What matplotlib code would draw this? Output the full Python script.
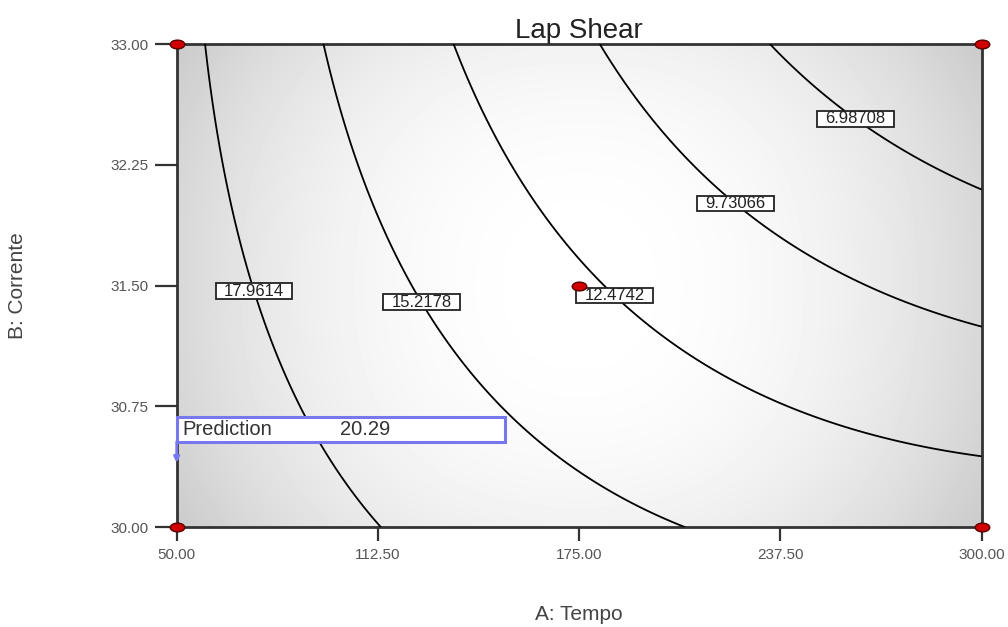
import numpy as np
import matplotlib.pyplot as plt
import matplotlib.transforms as mtransforms
from matplotlib.patches import Rectangle
from matplotlib.path import Path

plt.rcParams['font.family'] = ['Liberation Sans', 'DejaVu Sans']

# factor ranges and ticks
tempo_range = [50.0, 300.0]
corrente_range = [30.0, 33.0]
x_ticks = [50.0, 112.5, 175.0, 237.5, 300.0]
y_ticks = [30.0, 30.75, 31.5, 32.25, 33.0]

# contour levels shown on the plot
levels = [6.98708, 9.73066, 12.4742, 15.2178, 17.9614]

# points (A: Tempo, B: Corrente)
c1_tempo = [234.3, 253.8, 262.2, 282.9, 300.0]
c1_corrente = [33.0, 32.64, 32.51, 32.26, 32.08]
c2_tempo = [181.5, 217.2, 225.0, 241.5, 272.5, 300.0]
c2_corrente = [33.0, 32.11, 31.98, 31.78, 31.45, 31.25]
c3_tempo = [136.4, 169.0, 180.4, 187.7, 212.5, 241.5, 272.5, 300.0]
c3_corrente = [33.0, 31.80, 31.53, 31.41, 31.02, 30.73, 30.54, 30.44]
c4_tempo = [95.5, 123.0, 169.0, 207.3]
c4_corrente = [33.0, 31.49, 30.44, 30.0]
c5_tempo = [58.8, 73.3, 90.4, 95.0, 113.1]
c5_corrente = [33.0, 31.49, 30.69, 30.52, 30.0]

# design points (red dots)
design_tempo = [50.0, 50.0, 300.0, 300.0, 175.0]
design_corrente = [30.0, 33.0, 30.0, 33.0, 31.5]

# prediction flag
pred_tempo = 50.0
pred_corrente = 30.40
pred_value = 20.29

# where the contour labels sit
label_pos = [(262.0, 32.57), (224.7, 32.04), (187.4, 31.47), (127.1, 31.41), (74.7, 31.47)]


def quad_terms(a, b):
    # coded factors, full quadratic model
    a = (np.asarray(a, dtype=float) - 175.0) / 125.0
    b = (np.asarray(b, dtype=float) - 31.5) / 1.5
    return np.column_stack([np.ones_like(a), a, b, a * b, a ** 2, b ** 2])


# fit the response surface to the read contour points
tempos = [c1_tempo, c2_tempo, c3_tempo, c4_tempo, c5_tempo]
correntes = [c1_corrente, c2_corrente, c3_corrente, c4_corrente, c5_corrente]
X = np.vstack([quad_terms(t, c) for t, c in zip(tempos, correntes)] + [quad_terms([pred_tempo], [pred_corrente])])
y = np.concatenate([np.full(len(t), lv) for t, lv in zip(tempos, levels)] + [[pred_value]])
coef, *_ = np.linalg.lstsq(X, y, rcond=None)

A = np.linspace(*tempo_range, 300)
B = np.linspace(*corrente_range, 200)
AA, BB = np.meshgrid(A, B)
Z = (quad_terms(AA.ravel(), BB.ravel()) @ coef).reshape(AA.shape)

fig = plt.figure(figsize=(10.08, 6.27), dpi=100)
ax = fig.add_axes([0.1753, 0.159, 0.7986, 0.7708])

# grey shading of the design space
u, v = np.meshgrid(np.linspace(-1, 1, 60), np.linspace(-1, 1, 40))
shade = 1 - 0.15 * np.abs(u) ** 2.2 - 0.05 * np.abs(v) ** 2.5
ax.imshow(shade, extent=tempo_range + corrente_range, origin='lower', aspect='auto',
          cmap='gray', vmin=0, vmax=1, interpolation='bilinear', zorder=0)

cs = ax.contour(AA, BB, Z, levels=levels, colors='black', linewidths=1.3, zorder=3)
texts = cs.clabel(fmt=lambda val: f'{val:g}', manual=label_pos, inline=False, fontsize=12)
for t in texts:
    t.set_rotation(0)
    t.set_color('#222222')
    t.set_zorder(5)
    t.set_bbox(dict(boxstyle='square,pad=0.5', mutation_aspect=0.05, fc='white',
                    ec='#222222', lw=1.3))

circ = Path.unit_circle()
ellipse = Path(circ.vertices * [1.0, 0.6], circ.codes)
ax.plot(design_tempo, design_corrente, ls='none', marker=ellipse, ms=10.5,
        mfc='#d00000', mec='#5a0000', mew=1, clip_on=False, zorder=9)

# prediction flag
flag = fig.dpi_scale_trans + mtransforms.ScaledTranslation(pred_tempo, pred_corrente, ax.transData)
ax.add_patch(Rectangle((0, 0.21), 3.28, 0.25, transform=flag, fc='white', ec='#7878ee',
                       lw=2.2, clip_on=False, zorder=7))
ax.text(0.06, 0.335, 'Prediction', transform=flag, ha='left', va='center', fontsize=14.5,
        color='#333333', zorder=8)
ax.text(1.63, 0.335, f'{pred_value:.2f}', transform=flag, ha='left', va='center', fontsize=14.5,
        color='#333333', zorder=8)
ax.annotate('', xy=(pred_tempo, pred_corrente), xytext=(0, 0.21 * 72), textcoords='offset points',
            arrowprops=dict(arrowstyle='-|>', color='#7878ee', lw=2, shrinkA=0, shrinkB=0,
                            mutation_scale=8),
            annotation_clip=False, zorder=8)

ax.set_xlim(tempo_range)
ax.set_ylim(corrente_range)
ax.set_xticks(x_ticks)
ax.set_xticklabels([f'{t:.2f}' for t in x_ticks])
ax.set_yticks(y_ticks)
ax.set_yticklabels([f'{t:.2f}' for t in y_ticks])
ax.tick_params(axis='x', direction='out', length=10, width=1.6, pad=5, colors='#333333',
               labelcolor='#555555', labelsize=11)
ax.tick_params(axis='y', direction='out', length=16, width=1.6, pad=4, colors='#333333',
               labelcolor='#555555', labelsize=11)
for s in ax.spines.values():
    s.set_linewidth(2)
    s.set_color('#333333')

ax.set_title('Lap Shear', fontsize=20, color='#222222', pad=4)
ax.set_xlabel('A: Tempo', fontsize=15, color='#444444', va='top')
ax.set_ylabel('B: Corrente', fontsize=15, color='#444444')
ax.xaxis.set_label_coords(0.5, -0.161)
ax.yaxis.set_label_coords(-0.186, 0.5)

fig.savefig('out.png', dpi=100)
